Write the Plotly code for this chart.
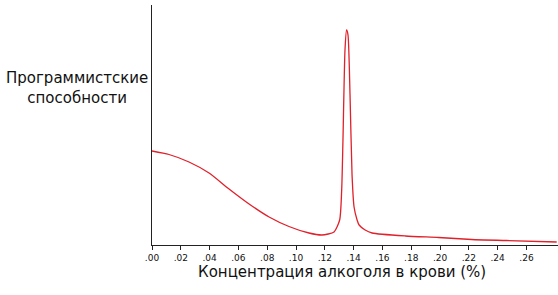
import plotly.graph_objects as go

# Data
bac = [0.0, 0.0118, 0.0257, 0.0396, 0.0535, 0.0674, 0.0813, 0.0951, 0.109, 0.118,
       0.1264, 0.1303, 0.1317, 0.1326, 0.134, 0.1351, 0.1361, 0.1375, 0.1389,
       0.1403, 0.1424, 0.1438, 0.148, 0.1528, 0.176, 0.199, 0.222, 0.246, 0.281]
skill = [94, 90.5, 83, 72, 56, 41, 28, 18.5, 12, 10,
         13, 25, 55, 105, 195, 215, 210, 150, 70,
         38, 25, 20, 15, 12, 9, 7.5, 5.5, 4.5, 3]

tick_vals = [0.00, 0.02, 0.04, 0.06, 0.08, 0.10, 0.12, 0.14, 0.16, 0.18, 0.20, 0.22, 0.24, 0.26]
tick_text = [".00", ".02", ".04", ".06", ".08", ".10", ".12", ".14", ".16", ".18", ".20", ".22", ".24", ".26"]

x_title = "Концентрация алкоголя в крови (%)"
y_title = "Программистские<br>способности"

fig = go.Figure()
fig.add_trace(go.Scatter(
    x=bac, y=skill, mode="lines",
    line=dict(color="#e0202a", width=1.3, shape="spline", smoothing=0.6),
    hoverinfo="skip", showlegend=False,
))

fig.update_layout(
    width=558, height=295,
    margin=dict(l=152, r=0, t=5, b=50),
    paper_bgcolor="white", plot_bgcolor="white",
    xaxis=dict(
        range=[0, 0.2819], showgrid=False, zeroline=False,
        showline=True, linecolor="#222", linewidth=1.2,
        tickvals=tick_vals, ticktext=tick_text,
        ticks="outside", ticklen=4, tickcolor="#222", tickwidth=1,
        tickfont=dict(family="DejaVu Sans", size=9, color="#111"),
    ),
    yaxis=dict(
        range=[0, 240], showgrid=False, zeroline=False,
        showline=True, linecolor="#222", linewidth=1.2,
        showticklabels=False, ticks="",
    ),
    annotations=[
        dict(
            text=y_title, xref="paper", yref="paper", x=-0.185, y=0.655,
            showarrow=False, align="center", xanchor="center", yanchor="middle",
            font=dict(family="DejaVu Sans", size=15, color="#111"),
        ),
        dict(
            text=x_title, xref="paper", yref="paper", x=0.468, y=-0.112,
            showarrow=False, align="center", xanchor="center", yanchor="middle",
            font=dict(family="DejaVu Sans", size=15, color="#111"),
        ),
    ],
)

fig.write_html("out.html")
